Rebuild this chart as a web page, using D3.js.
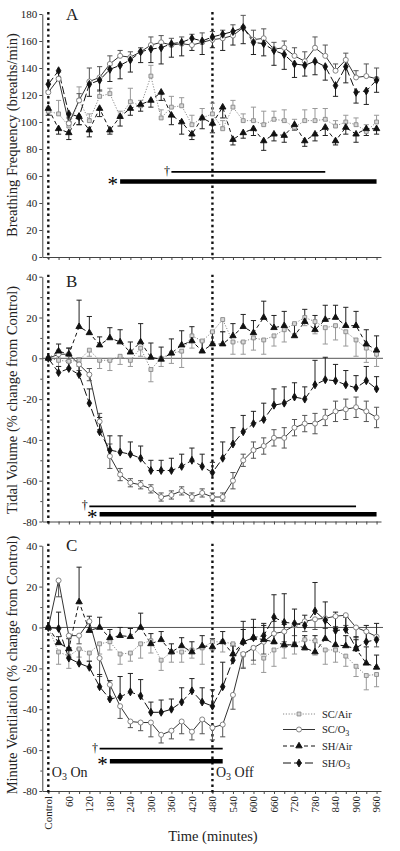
<!DOCTYPE html>
<html><head><meta charset="utf-8">
<script src="https://cdn.jsdelivr.net/npm/d3@7"></script>
<style>
body{margin:0;background:#fff}
svg{display:block}
text{font-family:"Liberation Serif","Times New Roman",serif;fill:#222}
</style>
</head><body><svg id="c" width="400" height="851"></svg>
<script>
// ---------------- DATA ----------------
const times = [0,30,60,90,120,150,180,210,240,270,300,330,360,390,420,450,480,510,540,570,600,630,660,690,720,750,780,810,840,870,900,930,960];
const xLabelTimes = [0,60,120,180,240,300,360,420,480,540,600,660,720,780,840,900,960];
const xLabels = ["Control","60","120","180","240","300","360","420","480","540","600","660","720","780","840","900","960"];
const seriesNames = ["SC/Air","SC/O3","SH/Air","SH/O3"];

// Panel A: Breathing frequency (breaths/min)
const A_scAir = [108,106,97,116,101,119,121,104,115,112,134,103,111,112,98,103,106,95,111,101,101,98,102,101,96,101,101,102,97,100,98,93,100];
const A_scO3  = [122,132,99,116,130,133,143,149,148,152,157,159,157,158,157,159,161,162,164,170,161,162,154,155,149,145,155,149,138,146,133,134,132];
const A_shAir = [110,95,92,104,94,110,94,104,110,113,116,122,105,100,91,103,99,111,87,92,95,86,91,90,98,86,91,96,86,96,91,95,95];
const A_shO3  = [128,138,106,104,128,131,139,142,146,152,154,155,158,159,162,160,163,165,167,170,159,158,153,150,143,142,145,141,127,141,122,123,131];
const A_scAir_err = [3,10,3,10,5,5,4,4,10,4,8,6,8,6,7,7,8,6,5,5,10,10,6,8,6,8,9,8,4,5,5,5,5];
const A_scO3_err  = [6,5,4,5,10,8,6,4,4,3,6,5,5,5,8,7,6,6,8,9,7,7,5,5,6,7,8,8,5,5,5,9,8];
const A_shAir_err = [5,4,5,6,5,6,3,7,5,5,5,6,7,9,4,8,7,8,4,4,5,7,5,5,4,4,5,6,3,5,6,5,4];
const A_shO3_err  = [5,5,6,6,9,8,9,10,9,8,10,12,10,10,9,10,8,12,10,12,9,9,11,11,10,8,10,10,8,12,8,10,9];

// Panel B: Tidal volume (% change from control)
const B_scAir = [0,-1,-1.5,-1,4,-1,-1,1,-1,5,-5.5,0,2.5,3.5,11,8.5,13,19,8,8,10,9,11,14,17,20,18,15,16,13,9,5,2];
const B_scO3  = [0,2,2,-3,-8,-31,-48,-57,-61,-62,-64,-68,-67,-65,-68,-66,-68,-68,-60,-50,-45,-43,-39,-39,-34,-32,-32,-29,-26,-25,-24,-26,-29];
const B_shAir = [0,3.5,2,15.5,12.5,6.5,10,8,3,8,0.5,-0.5,2.5,6.5,8.5,3.5,7,7,11,15.5,12.5,20,15,16,11,18,14,19,20,16,16,7,4];
const B_shO3  = [0,-7,-5,-8,-22,-36,-45,-46,-47,-49,-55,-55,-55,-53,-50,-53,-56,-49,-42,-36,-32,-30,-23,-22,-19,-20,-13,-10.5,-11,-13,-14.5,-11,-15];
const B_scAir_err = [0,3,3,3,3,4,5,4,3,4,6,4,5,8,6,5,5,6,6,6,6,7,5,6,5,4,6,8,7,7,8,7,6];
const B_scO3_err  = [0,2,3,3,3,4,6,3,2,2,2,2,2,2,2,2,2,2,4,3,4,4,4,5,4,4,5,4,5,5,5,5,5];
const B_shAir_err = [0,3.5,3,13,8,4,5,6,5,9,7,6,7,7,7,5,6,6,6,6,6,8,6,7,6,6,7,7,6,9,7,7,7];
const B_shO3_err  = [0,3,3,8,7,7,7,8,6,6,5,5,6,6,6,6,5,8,8,8,6,8,8,8,7,6,12,11,8,7,6,7,6];

// Panel C: Minute ventilation (% change from control)
const C_scAir = [0,-12,-14,-10.5,-12.5,-8,-7,-13,-12.5,-8,-6.5,-16,-12,-12,-11,-10,-7,-7,-8,-13.5,-10,-15,-11,-9,-8,-6,-6.5,-11,-11,-14,-19,-23.5,-23];
const C_scO3  = [0,23,-4,-4,3,-15,-28,-38.5,-46,-46.5,-46.5,-52.5,-50.5,-46,-51,-45,-49,-47.5,-33,-13,-10,-7,-3,-2,1,3,4,4.5,5.5,6,0,-2,-4.5];
const C_shAir = [0,-7.5,-10.5,12.5,-1.5,0,-5,-4,-4.5,0,-8,-6,-12,-9,-12,-9,-9.5,-7,-13,-7,-5,-6,-7,-8.5,-8.5,-10,-12,-5.5,-8.5,-9,-10.5,-17.5,-19.5];
const C_shO3  = [0,-0.5,-15,-17.5,-19.5,-29,-35,-34,-31.5,-33.5,-41.5,-41.5,-40,-36.5,-31,-36.5,-38.5,-29,-16,-7,-5,-4,5,2.5,2,1,8,3.5,-1.5,-1,-10,-7,-6];
const C_scAir_err = [0,6,6,4,4,5,4,5,4,7,6,5,5,5,4,8,4,5,5,6,8,7,8,6,5,5,7,7,6,5,5,7,6];
const C_scO3_err  = [0,8,6,4,5,9,6,6,3,4,7,4,4,6,4,7,6,6,7,7,6,6,5,5,5,5,5,5,5,5,5,5,5];
const C_shAir_err = [0,3,5,17,7,5,4,4,4,7,5,4,4,4,5,5,4,5,4,10,9,8,10,10,9,6,8,10,8,5,6,8,6];
const C_shO3_err  = [0,8,5,7,3,6,9,10,9,8,5,6,5,7,6,7,8,12,8,6,5,5,11,14,7,5,14,9,9,6,4,8,8];

// Significance bars
const sigPanel = ["A","A","B","B","C","C"];
const sigMark  = ["†","*","†","*","†","*"];
const sigStart = [360,210,120,150,150,180];
const sigEnd   = [810,960,900,960,510,510];
const sigLevel = [63,56,-72.6,-76.5,-59.3,-65.4];

// ---------------- DRAWING ----------------
const svg = d3.select("#c");
const x = d3.scaleLinear().domain([-17.6, 973]).range([42.3, 381]);

const styles = [
  {line:"#8a8a8a", dash:"1.2,1.6", width:1, sym:d3.symbolSquare, size:15, fill:"#d8d8d8", stroke:"#888", err:"#999"},
  {line:"#333", dash:null, width:1, sym:d3.symbolCircle, size:20, fill:"#fff", stroke:"#777", err:"#555"},
  {line:"#111", dash:"4,3", width:1, sym:d3.symbolTriangle, size:18, fill:"#111", stroke:"#111", err:"#222"},
  {line:"#111", dash:"8,3", width:1, sym:d3.symbolDiamond, size:18, fill:"#111", stroke:"#111", err:"#222"}
];

const panels = [
  {id:"A", domain:[0,180], range:[257,14], major:d3.range(0,181,20), minor:[], zero:false,
   title:"Breathing Frequency (breaths/min)", titleY:135, letterY:20,
   data:[A_scAir,A_scO3,A_shAir,A_shO3], err:[A_scAir_err,A_scO3_err,A_shAir_err,A_shO3_err], dir:[1,1,-1,-1]},
  {id:"B", domain:[-80,40], range:[521.5,276.7], major:d3.range(-80,41,20), minor:d3.range(-70,40,20), zero:true,
   title:"Tidal Volume (% change from Control)", titleY:400, letterY:287,
   data:[B_scAir,B_scO3,B_shAir,B_shO3], err:[B_scAir_err,B_scO3_err,B_shAir_err,B_shO3_err], dir:[-1,0,1,1]},
  {id:"C", domain:[-80,40], range:[791,545.7], major:d3.range(-80,41,20), minor:d3.range(-70,40,20), zero:true,
   title:"Minute Ventilation (% change from Control)", titleY:665, letterY:551,
   data:[C_scAir,C_scO3,C_shAir,C_shO3], err:[C_scAir_err,C_scO3_err,C_shAir_err,C_shO3_err], dir:[-1,-1,1,1]}
];

panels.forEach((p, pi) => {
  const y = d3.scaleLinear().domain(p.domain).range(p.range);
  const g = svg.append("g");

  // y axis
  const ya = g.append("g").attr("transform", `translate(${x.range()[0]},0)`)
    .call(d3.axisLeft(y).tickValues(p.major).tickSize(3).tickSizeOuter(0).tickPadding(2).tickFormat(d => String(d)));
  ya.select(".domain").attr("stroke","#444");
  ya.selectAll(".tick line").attr("stroke","#444");
  ya.selectAll("text").attr("font-size",11).attr("fill","#333").style("font-family","Liberation Serif");
  if (p.minor.length) {
    const ym = g.append("g").attr("transform", `translate(${x.range()[0]},0)`)
      .call(d3.axisLeft(y).tickValues(p.minor).tickSize(2).tickFormat(""));
    ym.select(".domain").remove();
    ym.selectAll(".tick line").attr("stroke","#444");
  }

  // x axis
  const xa = g.append("g").attr("transform", `translate(0,${p.range[0]})`)
    .call(d3.axisBottom(x).tickValues(times).tickSize(3).tickSizeOuter(0).tickFormat(""));
  xa.select(".domain").attr("stroke","#444");
  xa.selectAll(".tick line").attr("stroke","#444");

  // zero line
  if (p.zero) {
    g.append("line").attr("x1", x.range()[0]).attr("x2", x.range()[1]+2)
      .attr("y1", y(0)).attr("y2", y(0)).attr("stroke","#555").attr("stroke-width",1);
  }

  // dotted O3 on/off lines
  [0,480].forEach(t => {
    g.append("line").attr("x1", x(t)).attr("x2", x(t))
      .attr("y1", p.range[1]-2).attr("y2", p.range[0]+2)
      .attr("stroke","#111").attr("stroke-width",2.4).attr("stroke-dasharray","2.4,3.2");
  });

  // y title
  g.append("text").attr("transform", `translate(17,${p.titleY}) rotate(-90)`)
    .attr("text-anchor","middle").attr("font-size",14.5).text(p.title);
  // panel letter
  g.append("text").attr("x",66).attr("y",p.letterY).attr("font-size",17).text(p.id);

  // series lines
  p.data.forEach((vals, si) => {
    const st = styles[si];
    const line = d3.line().x((d,i) => x(times[i])).y(d => y(d));
    g.append("path").datum(vals).attr("d", line).attr("fill","none")
      .attr("stroke", st.line).attr("stroke-width", st.width)
      .attr("stroke-dasharray", st.dash);
  });
  // error bars
  p.data.forEach((vals, si) => {
    const st = styles[si], errs = p.err[si], dir = p.dir[si];
    vals.forEach((v, i) => {
      const e = errs[i]; if (!e) return;
      const cx = x(times[i]);
      const lo = dir === 1 ? v : v - e;
      const hi = dir === -1 ? v : v + e;
      g.append("line").attr("x1",cx).attr("x2",cx).attr("y1",y(lo)).attr("y2",y(hi))
        .attr("stroke", st.err).attr("stroke-width",1);
      const caps = dir === 0 ? [lo,hi] : [dir === 1 ? hi : lo];
      caps.forEach(c => g.append("line").attr("x1",cx-2.6).attr("x2",cx+2.6)
        .attr("y1",y(c)).attr("y2",y(c)).attr("stroke", st.err).attr("stroke-width",1));
    });
  });
  // markers
  p.data.forEach((vals, si) => {
    const st = styles[si];
    g.selectAll(null).data(vals).enter().append("path")
      .attr("transform", (d,i) => `translate(${x(times[i])},${y(d)})`)
      .attr("d", d3.symbol().type(st.sym).size(st.size))
      .attr("fill", st.fill).attr("stroke", st.stroke).attr("stroke-width", 0.9);
  });

  // significance bars
  sigPanel.forEach((pid, k) => {
    if (pid !== p.id) return;
    const thick = sigMark[k] === "*";
    const yy = y(sigLevel[k]);
    g.append("line").attr("x1", x(sigStart[k])).attr("x2", x(sigEnd[k]))
      .attr("y1", yy).attr("y2", yy).attr("stroke","#000").attr("stroke-width", thick ? 4.5 : 1.8);
    if (thick) {
      g.append("text").attr("x", x(sigStart[k]) - 2).attr("y", yy + 10)
        .attr("text-anchor","end").attr("font-size",21).style("fill","#000").text("*");
    } else {
      g.append("text").attr("x", x(sigStart[k]) - 1.5).attr("y", yy + 3)
        .attr("text-anchor","end").attr("font-size",12).style("fill","#000").text("†");
    }
  });

  // bottom panel extras
  if (p.id === "C") {
    xLabelTimes.forEach((t, i) => {
      g.append("text").attr("transform", `translate(${x(t)},${p.range[0]+5}) rotate(-90)`)
        .attr("text-anchor","end").attr("dy","0.35em").attr("font-size",11).attr("fill","#333").text(xLabels[i]);
    });
    svg.append("text").attr("x",213).attr("y",841).attr("text-anchor","middle")
      .attr("font-size",14.5).text("Time (minutes)");

    // O3 On / Off
    [[0,"On"],[480,"Off"]].forEach(([t, w]) => {
      const tx = g.append("text").attr("x", x(t) + 3.5).attr("y", 777).attr("font-size",14);
      tx.append("tspan").text("O");
      tx.append("tspan").attr("font-size",10).attr("dy",3).text("3");
      tx.append("tspan").attr("dy",-3).text(" " + w);
    });

    // legend
    const ly = [714, 729.5, 746, 763];
    seriesNames.forEach((name, si) => {
      const st = styles[si];
      g.append("line").attr("x1",283).attr("x2",315).attr("y1",ly[si]).attr("y2",ly[si])
        .attr("stroke",st.line).attr("stroke-width",1).attr("stroke-dasharray",st.dash);
      g.append("path").attr("transform",`translate(299,${ly[si]})`)
        .attr("d", d3.symbol().type(st.sym).size(st.size))
        .attr("fill",st.fill).attr("stroke",st.stroke).attr("stroke-width",0.9);
      const t = g.append("text").attr("x",322).attr("y",ly[si]+3.5).attr("font-size",10.5).attr("fill","#333");
      if (name.endsWith("O3")) {
        t.append("tspan").text(name.slice(0,-1));
        t.append("tspan").attr("font-size",8).attr("dy",2.5).text("3");
      } else {
        t.text(name);
      }
    });
  }
});
</script>
</body></html>
